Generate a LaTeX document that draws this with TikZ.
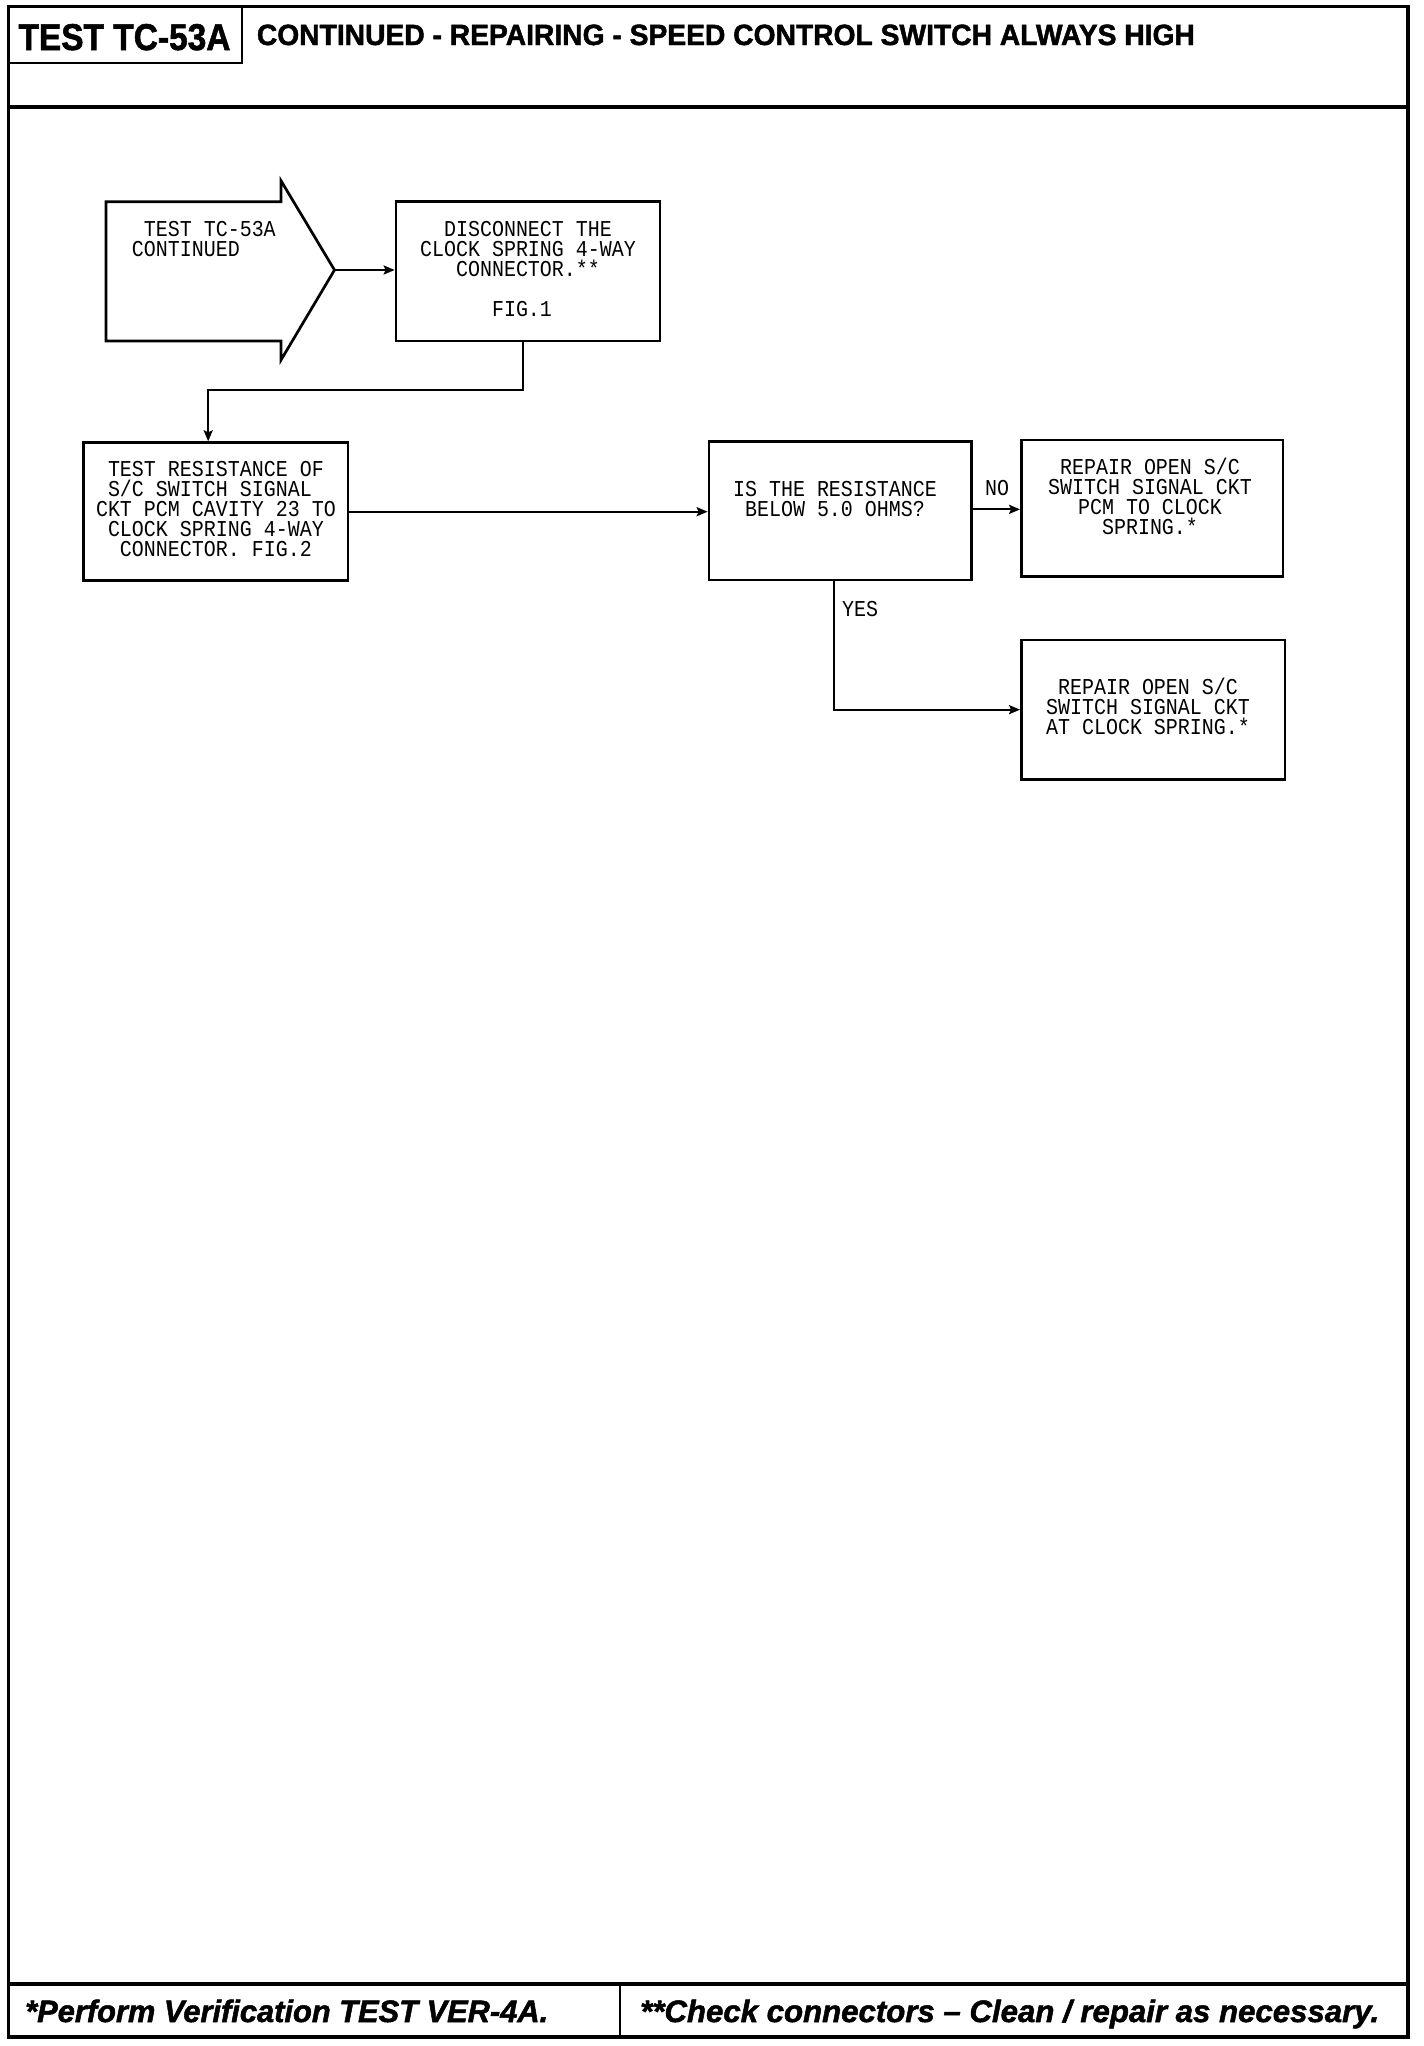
\documentclass[tikz,border=0pt]{standalone}
\usepackage{fontspec}
\usepackage{graphicx}
\usetikzlibrary{arrows.meta}
\newfontfamily\cadfont{Liberation Mono}
\newfontfamily\hdfont{Liberation Sans}[BoldFeatures={FakeBold=1.6}, BoldItalicFeatures={FakeBold=1.6}]
\newcommand{\cadc}[1]{\scalebox{0.88}[1]{\vtop{\baselineskip=20pt\lineskiplimit=-100pt\lineskip=0pt\halign{\hfil##\hfil\cr#1\crcr}}}}
\newcommand{\cadl}[1]{\scalebox{0.88}[1]{\vtop{\baselineskip=20pt\lineskiplimit=-100pt\lineskip=0pt\halign{##\hfil\cr#1\crcr}}}}
\tikzset{
  frame/.style={line width=3.3pt},
  thin frame/.style={line width=2pt},
  box/.style={draw, rectangle, line width=2.7pt, inner sep=0pt},
  cad/.style={inner sep=0pt, font=\cadfont\fontsize{22.7pt}{20pt}\selectfont},
  conn/.style={line width=2.2pt, -{Stealth[length=11pt,width=9pt,inset=2pt]}},
  hd/.style={inner sep=0pt, anchor=base west},
}
\begin{document}
\begin{tikzpicture}[x=1pt, y=-1pt]
\useasboundingbox (0,0) rectangle (1424,2046);
% frame
\draw[frame] (8.3,6.5) rectangle (1408,2037);
\draw[frame] (8.3,107) -- (1408,107);
\draw[thin frame] (8.3,63.3) -- (242,63.3) -- (242,6.5);
\draw[frame] (8.3,1984) -- (1408,1984);
\draw[line width=2.5pt] (620,1984) -- (620,2037);
% header texts
\node[hd, font=\hdfont\bfseries\fontsize{37.3pt}{40pt}\selectfont] (tid) at (18.3,50) {\resizebox{212pt}{\height}{TEST TC-53A}};
\node[hd, font=\hdfont\bfseries\fontsize{29.3pt}{32pt}\selectfont] (title) at (256.7,45) {\resizebox{938pt}{\height}{CONTINUED - REPAIRING - SPEED CONTROL SWITCH ALWAYS HIGH}};
% footer texts
\node[hd, font=\hdfont\bfseries\itshape\fontsize{31pt}{34pt}\selectfont] (foot1) at (25,2022) {\resizebox{523pt}{\height}{*Perform Verification TEST VER-4A.}};
\node[hd, font=\hdfont\bfseries\itshape\fontsize{31pt}{34pt}\selectfont] (foot2) at (640,2022) {\resizebox{739pt}{\height}{**Check connectors – Clean / repair as necessary.}};
% start arrow
\draw[line width=2.7pt, line join=miter] (106,201.7) -- (281,201.7) -- (281,180.7) -- (334.5,270) -- (281,360) -- (281,341) -- (106,341) -- cycle;
\coordinate (tip) at (334.5,270);
\node[cad, anchor=base west] (startt) at (131.7,236.7) {\cadl{\ TEST TC-53A\cr CONTINUED}};
% boxes
\node[box, minimum width=264pt, minimum height=139.3pt] (disc) at (528,271.35) {};
\node[box, minimum width=264.1pt, minimum height=138pt] (test) at (215.85,511.7) {};
\node[box, minimum width=262.5pt, minimum height=138.3pt] (q) at (840.25,510.85) {};
\node[box, minimum width=261.6pt, minimum height=136.7pt] (r1) at (1152.2,508.35) {};
\node[box, minimum width=263.6pt, minimum height=139.3pt] (r2) at (1153.2,709.65) {};
% box texts
\node[cad, anchor=base] (disct) at (528,236.7) {\cadc{DISCONNECT THE\cr CLOCK SPRING 4-WAY\cr CONNECTOR.**\cr \cr FIG.1\ }};
\node[cad, anchor=base] (testt) at (215.9,476.7) {\cadc{TEST RESISTANCE OF\cr S/C SWITCH SIGNAL\ \cr CKT PCM CAVITY 23 TO\cr CLOCK SPRING 4-WAY\cr CONNECTOR. FIG.2}};
\node[cad, anchor=base] (qt) at (835,496.7) {\cadc{IS THE RESISTANCE\cr BELOW 5.0 OHMS?}};
\node[cad, anchor=base] (r1t) at (1150,474) {\cadc{REPAIR OPEN S/C\cr SWITCH SIGNAL CKT\cr PCM TO CLOCK\cr SPRING.*}};
\node[cad, anchor=base] (r2t) at (1148,694) {\cadc{REPAIR OPEN S/C\cr SWITCH SIGNAL CKT\cr AT CLOCK SPRING.*}};
% labels
\node[cad, anchor=base] (no) at (997,495) {\cadc{NO}};
\node[cad, anchor=base west] (yes) at (842,616.7) {\cadl{YES}};
% connectors
\draw[conn] (tip) -- (tip -| disc.west);
\coordinate (j1) at (208.2,390);
\draw[conn] ([xshift=-5.4pt]disc.south) |- (j1) -- (j1 |- test.north);
\draw[conn] (test.east) -- (test.east -| q.west);
\draw[conn] ([yshift=1.5pt]q.east) -- ([yshift=1.5pt]q.east -| r1.west);
\draw[conn] ([xshift=-6pt]q.south) |- (r2.west);
\end{tikzpicture}
\end{document}
